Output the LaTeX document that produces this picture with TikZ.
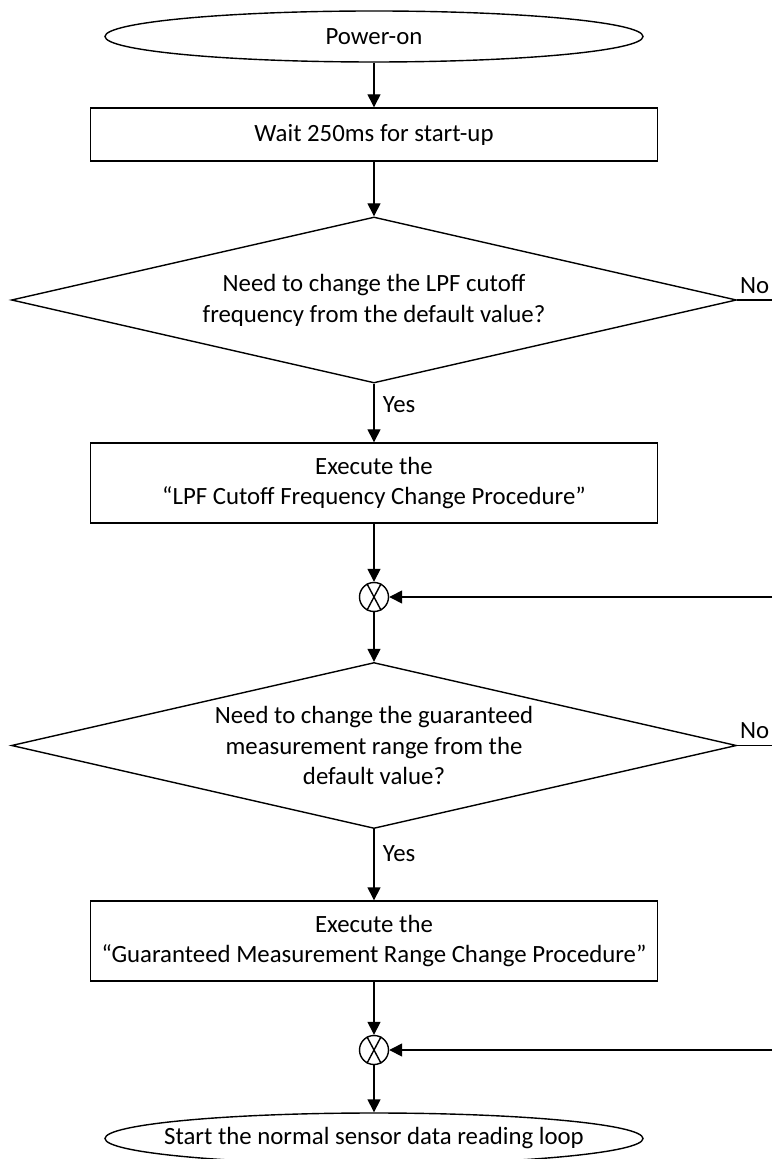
\documentclass[tikz,border=0pt]{standalone}
\usepackage{fontspec}
\setmainfont{Carlito}
\usetikzlibrary{shapes.geometric,arrows.meta}

\begin{document}
\fontsize{12.4}{15.4}\selectfont
\begin{tikzpicture}[x=0.5pt,y=-0.5pt,
    line width=0.7pt,
    terminal/.style={draw, ellipse, inner sep=0pt, minimum width=269pt, minimum height=25.5pt},
    process/.style={draw, rectangle, align=center, inner xsep=2pt, minimum width=283.5pt},
    decision/.style={draw, diamond, aspect=4.37, inner sep=0pt, align=center, minimum width=362.5pt, minimum height=83pt},
    junction/.style={draw, circle, inner sep=0pt, minimum size=14.5pt},
    arr/.style={-{Triangle[length=6.5pt,width=6.5pt]}},
    branch/.style={above, inner sep=3pt}]
    \useasboundingbox (0,0) rectangle (772,1159);

    % Avvio
    \node[terminal] (start) at (374,36.5) {Power-on};
    \node[process, minimum height=26.5pt] (wait) at (374,134.5) {Wait 250ms for start-up};

    % Filtro passa-basso
    \node[decision] (lpfq) at (374,300) {Need to change the LPF cutoff\\ frequency from the default value?};
    \node[process, minimum height=40pt] (lpfdo) at (374,483) {Execute the\\ “LPF Cutoff Frequency Change Procedure”};
    \node[junction] (lpfjoin) at (374,597) {};
    \draw (lpfjoin.118) -- (lpfjoin.-62) (lpfjoin.62) -- (lpfjoin.-118);
    \coordinate (lpfno) at (772,300);
    \coordinate (lpfback) at (772,597);

    % Campo di misura
    \node[decision] (rngq) at (374,745.5) {Need to change the guaranteed\\ measurement range from the\\ default value?};
    \node[process, minimum height=40pt] (rngdo) at (374,941) {Execute the\\ “Guaranteed Measurement Range Change Procedure”};
    \node[junction] (rngjoin) at (374,1050) {};
    \draw (rngjoin.118) -- (rngjoin.-62) (rngjoin.62) -- (rngjoin.-118);
    \coordinate (rngno) at (772,745.5);
    \coordinate (rngback) at (772,1050);

    % Fine
    \node[terminal, label={center:Start the normal sensor data reading loop}] (loop) at (374,1138.5) {};

    % Collegamenti
    \draw[arr] (start) -- (wait);
    \draw[arr] (wait) -- (lpfq);
    \draw[arr] (lpfq) -- node[right, pos=0.35] {Yes} (lpfdo);
    \draw (lpfq.east) -- node[branch] {No} (lpfno);
    \draw[arr] (lpfdo) -- (lpfjoin);
    \draw[arr] (lpfback) -- (lpfjoin);
    \draw[arr] (lpfjoin) -- (rngq);
    \draw[arr] (rngq) -- node[right, pos=0.35] {Yes} (rngdo);
    \draw (rngq.east) -- node[branch] {No} (rngno);
    \draw[arr] (rngdo) -- (rngjoin);
    \draw[arr] (rngback) -- (rngjoin);
    \draw[arr] (rngjoin) -- (loop);
\end{tikzpicture}
\end{document}
